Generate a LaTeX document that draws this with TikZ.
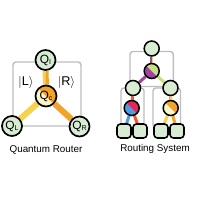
\documentclass[tikz,border=0pt]{standalone}
\usepackage{fontspec}
\setmainfont{Liberation Sans}
\usetikzlibrary{backgrounds}

\definecolor{qgreen}{HTML}{D8ECD4}
\definecolor{boxgray}{HTML}{BDBDBD}
\definecolor{qorange}{HTML}{F3A22C}
\definecolor{qyellow}{HTML}{F6D34A}
\definecolor{qcream}{HTML}{FBF4C6}
\definecolor{rpurple}{HTML}{A2449F}
\definecolor{rlime}{HTML}{C6E07C}
\definecolor{rred}{HTML}{E2285C}
\definecolor{rorange}{HTML}{EF5A2A}
\definecolor{rblue}{HTML}{4A9FE0}

\newcommand{\qlab}[1]{Q\raisebox{-0.2ex}{\fontsize{10}{10}\selectfont #1}}

\begin{document}
\begin{tikzpicture}[x=0.05cm,y=-0.05cm,
    qubit/.style={circle,draw,line width=2.4pt,fill=qgreen,minimum size=1cm,
                  inner sep=0pt,font=\fontsize{17}{17}\selectfont},
    qsplit/.style={qubit,fill=none,minimum size=1.05cm},
    mem/.style={circle,draw,line width=2.2pt,fill=qgreen,minimum size=0.75cm,inner sep=0pt},
    msplit/.style={mem,fill=none},
    leaf/.style={rectangle,draw,line width=2.2pt,fill=qgreen,minimum size=0.7cm,
                 rounded corners=0.17cm,inner sep=0pt},
    frame/.style={draw=boxgray,line width=2pt,rounded corners=0.15cm},
    wide/.style={line width=8.5pt},
    half/.style={line width=4.3pt},
    slim/.style={line width=2.4pt},
    caption/.style={font=\fontsize{14}{14}\selectfont},
    ket/.style={font=\fontsize{18}{18}\selectfont}]
  \useasboundingbox (0,0) rectangle (200,200);

  % quantum router
  \node[qubit]  (qi) at (45.5,60)  {\qlab{I}};
  \node[qsplit] (qc) at (46,96)    {\qlab{c}};
  \node[qubit]  (ql) at (12,126)   {\qlab{L}};
  \node[qubit]  (qr) at (79.5,126.5) {\qlab{R}};
  \node[ket] (lblL) at (26,82) {$|$L$\rangle$};
  \node[ket] (lblR) at (66.5,82) {$|$R$\rangle$};
  \node[caption] (capL) at (46,150) {Quantum Router};

  % routing system (binary tree)
  \node[mem]    (top) at (151.7,48.5) {};
  \node[msplit] (rt)  at (151.7,71)   {};
  \node[mem]    (lc)  at (133,88)     {};
  \node[mem]    (rc)  at (170.5,88)   {};
  \node[msplit] (lr)  at (131.7,108)  {};
  \node[msplit] (rr)  at (170.7,108)  {};
  \node[leaf] (o1) at (124,131) {};
  \node[leaf] (o2) at (140,131) {};
  \node[leaf] (o3) at (161,131) {};
  \node[leaf] (o4) at (177,131) {};
  \node[caption] (capR) at (155,149) {Routing System};

  \begin{scope}[on background layer]
    \draw[frame] (13,62) rectangle (81,126);
    \draw[frame] (130,51.5) rectangle (173.3,86.5);
    \draw[frame] (121,88) rectangle (144,128);
    \draw[frame] (153,88) rectangle (180.5,128);

    \draw[half,qyellow,transform canvas={xshift=-2.1pt}] (qi) -- (qc);
    \draw[half,qorange,transform canvas={xshift=2.1pt}] (qi) -- (qc);
    \draw[wide,qyellow] (qc) -- (ql);
    \draw[wide,qorange] (qc) -- (qr);

    \draw[slim,rpurple,transform canvas={xshift=-1.2pt}] (top) -- (rt);
    \draw[slim,rlime,transform canvas={xshift=1.2pt}] (top) -- (rt);
    \draw[half,rpurple] (rt) -- (lc);
    \draw[half,rlime] (rt) -- (rc);
    \draw[half,rorange] (lc) -- (lr);
    \draw[slim,qorange,transform canvas={xshift=-1.2pt}] (rc) -- (rr);
    \draw[slim,qyellow,transform canvas={xshift=1.2pt}] (rc) -- (rr);
    \draw[half,rblue] (lr) -- (o1);
    \draw[half,rorange] (lr) -- (o2);
    \draw[half,qyellow] (rr) -- (o3);
    \draw[half,qorange] (rr) -- (o4);

    % two-state fills
    \fill[qcream] (qc) circle (5.25mm);
    \fill[qorange] (qc.center) -- +(135:5.25mm) arc[start angle=135,end angle=-45,radius=5.25mm] -- cycle;
    \fill[rpurple] (rt) circle (3.75mm);
    \fill[rlime] (rt.center) -- +(135:3.75mm) arc[start angle=135,end angle=-45,radius=3.75mm] -- cycle;
    \fill[rblue] (lr) circle (3.75mm);
    \fill[rred] (lr.center) -- +(135:3.75mm) arc[start angle=135,end angle=-45,radius=3.75mm] -- cycle;
    \fill[qcream] (rr) circle (3.75mm);
    \fill[qorange] (rr.center) -- +(135:3.75mm) arc[start angle=135,end angle=-45,radius=3.75mm] -- cycle;
  \end{scope}
\end{tikzpicture}
\end{document}
